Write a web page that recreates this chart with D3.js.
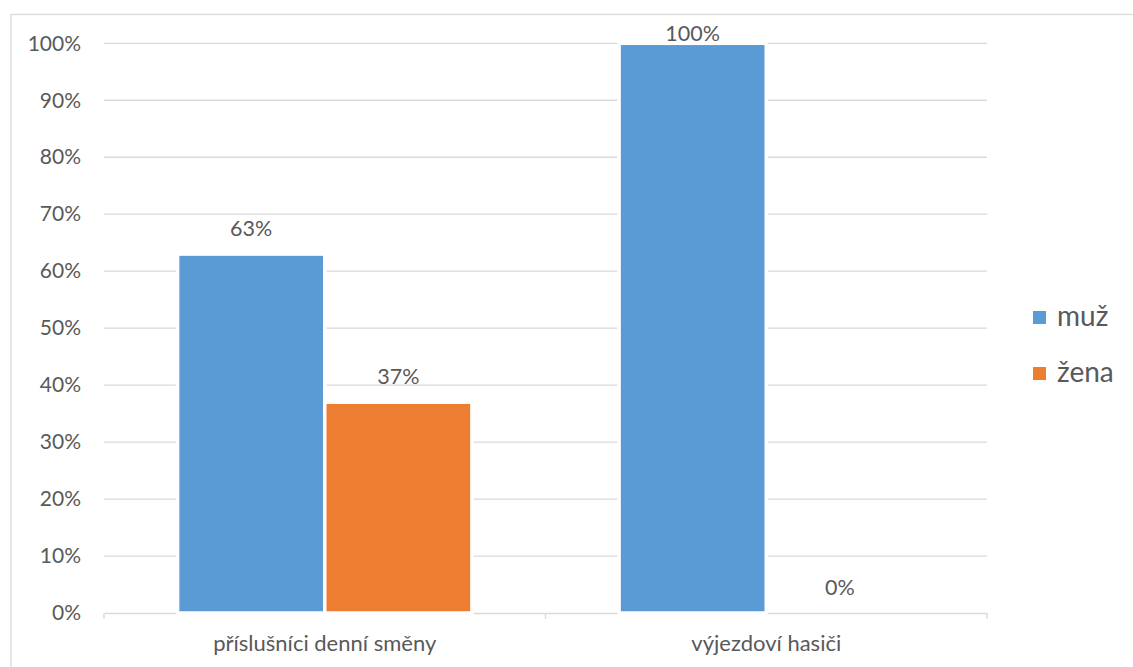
<!DOCTYPE html>
<html>
<head>
<meta charset="utf-8">
<script src="https://cdn.jsdelivr.net/npm/d3@7"></script>
<style>
  html, body { margin: 0; padding: 0; background: #fff; }
  svg text { font-family: Lato, "Open Sans", sans-serif; fill: #595959; }
</style>
</head>
<body>
<svg id="chart" width="1133" height="667"></svg>
<script>
// Podíl mužů a žen podle typu služby
const categories = ["příslušníci denní směny", "výjezdoví hasiči"];
const seriesNames = ["muž", "žena"];
const seriesColors = ["#5B9BD5", "#ED7D31"];
const muz = [0.63, 1.00];
const zena = [0.37, 0.00];
const yTicks = [0, 0.1, 0.2, 0.3, 0.4, 0.5, 0.6, 0.7, 0.8, 0.9, 1.0];

const values = [muz, zena];
const rows = [];
categories.forEach((c, i) => {
  seriesNames.forEach((s, j) => rows.push({ cat: c, series: s, value: values[j][i], color: seriesColors[j] }));
});

const svg = d3.select("#chart");
const plot = { left: 104, right: 987, top: 43.3, bottom: 613 };
const pct = d3.format(".0%");

// outer chart frame
svg.append("rect")
  .attr("x", 11).attr("y", 14.5)
  .attr("width", 1140).attr("height", 680)
  .attr("fill", "none").attr("stroke", "#d9d9d9").attr("stroke-width", 1.3);

const x0 = d3.scaleBand().domain(categories).range([plot.left, plot.right]).padding(0);
const x1 = d3.scaleBand().domain(seriesNames).range([0, x0.bandwidth()]).paddingInner(0).paddingOuter(0.5);
const y = d3.scaleLinear().domain([0, 1]).range([plot.bottom, plot.top]);

// horizontal gridlines
svg.append("g")
  .selectAll("line")
  .data(yTicks.filter(t => t > 0))
  .join("line")
  .attr("x1", plot.left).attr("x2", plot.right)
  .attr("y1", d => y(d)).attr("y2", d => y(d))
  .attr("stroke", "#d9d9d9").attr("stroke-width", 1.3);

// y tick labels
const yAxis = d3.axisLeft(y).tickValues(yTicks).tickFormat(pct).tickSize(0).tickPadding(23);
const gy = svg.append("g").attr("transform", `translate(${plot.left},0)`).call(yAxis);
gy.select(".domain").remove();
gy.selectAll("text").style("font-size", "21px").attr("fill", "#595959");

// category axis
const gx = svg.append("g").attr("transform", `translate(0,${plot.bottom})`)
  .call(d3.axisBottom(x0).tickSize(0));
gx.select(".domain").attr("stroke", "#d9d9d9").attr("stroke-width", 1.3);
gx.selectAll("text").attr("y", 38).attr("dy", null)
  .style("font-size", "22px").attr("fill", "#595959");
// boundary tick marks between categories
const bounds = [plot.left, ...categories.map(c => x0(c) + x0.bandwidth())];
gx.selectAll(".bound")
  .data(bounds)
  .join("line")
  .attr("class", "bound")
  .attr("x1", d => d).attr("x2", d => d)
  .attr("y1", 0).attr("y2", 6)
  .attr("stroke", "#d9d9d9").attr("stroke-width", 1.3);

// bars
svg.append("g")
  .selectAll("rect")
  .data(rows)
  .join("rect")
  .attr("x", d => x0(d.cat) + x1(d.series))
  .attr("y", d => y(d.value))
  .attr("width", x1.bandwidth())
  .attr("height", d => y(0) - y(d.value))
  .attr("fill", d => d.color)
  .attr("stroke", d => d.value > 0 ? "#fff" : "none")
  .attr("stroke-width", 3.5);

// value labels
svg.append("g")
  .selectAll("text")
  .data(rows)
  .join("text")
  .attr("x", d => x0(d.cat) + x1(d.series) + x1.bandwidth() / 2)
  .attr("y", d => Math.max(y(d.value) - 18, y(1) - 2.5))
  .attr("text-anchor", "middle")
  .style("font-size", "21.5px")
  .text(d => pct(d.value));

// legend
const legend = svg.append("g");
const li = legend.selectAll("g").data(seriesNames).join("g")
  .attr("transform", (d, i) => `translate(1033, ${311 + i * 56})`);
li.append("rect").attr("width", 13).attr("height", 13).attr("fill", (d, i) => seriesColors[i]);
li.append("text").attr("x", 24).attr("y", 15).style("font-size", "28px").text(d => d);
</script>
</body>
</html>
